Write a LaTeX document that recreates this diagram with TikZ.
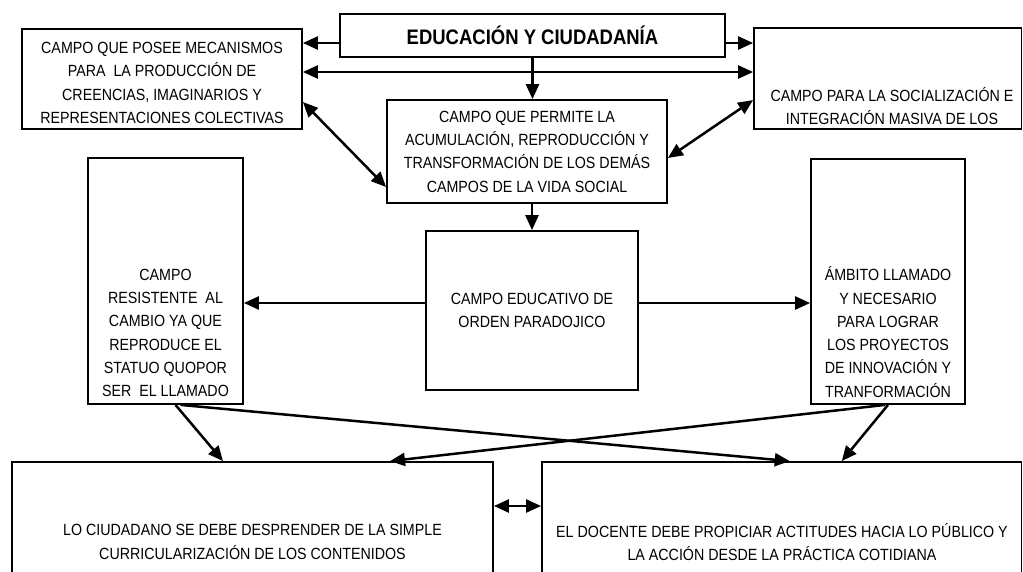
\documentclass[tikz,border=0pt]{standalone}
\usepackage{fontspec}
\setmainfont[FakeStretch=0.88]{Liberation Sans}
\usepackage{tikz}
\usetikzlibrary{%
	arrows.meta,% wg. Triangle
	positioning
}
\newcommand{\boxfont}{\fontsize{16.2}{23.3}\selectfont}
\tikzstyle{box}=[draw, line width=1.8pt, inner sep=0pt, align=center, font=\boxfont]
\tikzstyle{title}=[box, font=\fontsize{21}{25}\selectfont\bfseries]
\tikzstyle{txt}=[inner sep=0pt, align=center, font=\boxfont]
\tikzstyle{edge}=[draw, line width=2.5pt, -{Triangle[length=15pt,width=13pt]}]
\tikzstyle{twoway}=[edge, {Triangle[length=15pt,width=13pt]}-{Triangle[length=15pt,width=13pt]}]

\begin{document}
\begin{tikzpicture}[x=1pt,y=-1pt]
		\useasboundingbox (0,0) rectangle (1023,571);
		
		% First we draw the boxes
		\node[title, minimum width=385pt, minimum height=43pt] (edu) at (532.5,35.5) {EDUCACIÓN Y CIUDADANÍA};
		\node[box, minimum width=280pt, minimum height=103pt] (mid) at (527,151.5)
			{CAMPO QUE PERMITE LA\\ACUMULACIÓN, REPRODUCCIÓN Y\\TRANSFORMACIÓN DE LOS DEMÁS\\CAMPOS DE LA VIDA SOCIAL};
		\node[box, minimum width=212pt, minimum height=159pt] (par) at (532,310.5)
			{CAMPO EDUCATIVO DE\\ORDEN PARADOJICO};
		
		% Boxes whose text sits off centre
		\foreach \pos/\name/\w/\h in {{(162,79)/lt/280/100}, {(887.75,78.5)/rt/267.5/101}, {(165.5,281)/lw/155/246},
			{(888,281.5)/rw/154/245}, {(252.5,531)/bl/481/138}, {(781.75,531)/br/479.5/138}}
		\node[box, minimum width=\w pt, minimum height=\h pt] (\name) at \pos {};
		
		\node[txt] (lttext) at (162,83) {CAMPO QUE POSEE MECANISMOS\\PARA\ \ LA PRODUCCIÓN DE\\CREENCIAS, IMAGINARIOS Y\\REPRESENTACIONES COLECTIVAS};
		\node[txt] (rttext) at (892,106) {CAMPO PARA LA SOCIALIZACIÓN E\\INTEGRACIÓN MASIVA DE LOS};
		\node[txt] (lwtext) at (165.5,333) {CAMPO\\RESISTENTE\ \ AL\\CAMBIO YA QUE\\REPRODUCE EL\\STATUO QUOPOR\\SER\ \ EL LLAMADO};
		\node[txt] (rwtext) at (888,332) {ÁMBITO LLAMADO\\Y NECESARIO\\PARA LOGRAR\\LOS PROYECTOS\\DE INNOVACIÓN Y\\TRANFORMACIÓN};
		\node[txt] (bltext) at (252.5,542) {LO CIUDADANO SE DEBE DESPRENDER DE LA SIMPLE\\CURRICULARIZACIÓN DE LOS CONTENIDOS};
		\node[txt] (brtext) at (782,542) {EL DOCENTE DEBE PROPICIAR ACTITUDES HACIA LO PÚBLICO Y\\LA ACCIÓN DESDE LA PRÁCTICA COTIDIANA};
		
		% Connect boxes with one-way arrows
		\foreach \a/\ax/\ay/\b/\bx/\by in {
			edu.west/0/7.5/lt.east/0/-36,
			edu.east/0/7.5/rt.west/0/-35.5,
			{edu.south}/0/0/{edu.south |- mid.north}/0/0,
			{mid.south -| par.north}/0/0/par.north/0/0,
			par.west/0/-7.5/lw.east/0/22,
			par.east/0/-7.5/rw.west/0/21.5,
			lw.south/10/0/bl.north/-29.5/0,
			lw.south/15/0/br.north/8/0,
			rw.south/0/0/br.north/60/0,
			rw.south/-3/0/bl.north/137.5/0
		}
		\path[edge] ([shift={(\ax,\ay)}]\a) -- ([shift={(\bx,\by)}]\b);
		
		% Connect boxes with two-way arrows
		\foreach \a/\ay/\b/\by in {
			lt.east/-7/rt.west/-6.5,
			lt.east/23/mid.west/35.5,
			rt.west/21.5/mid.east/6.5,
			bl.east/-25/br.west/-25
		}
		\path[twoway] ([shift={(0,\ay)}]\a) -- ([shift={(0,\by)}]\b);
		
		\end{tikzpicture}
\end{document}
